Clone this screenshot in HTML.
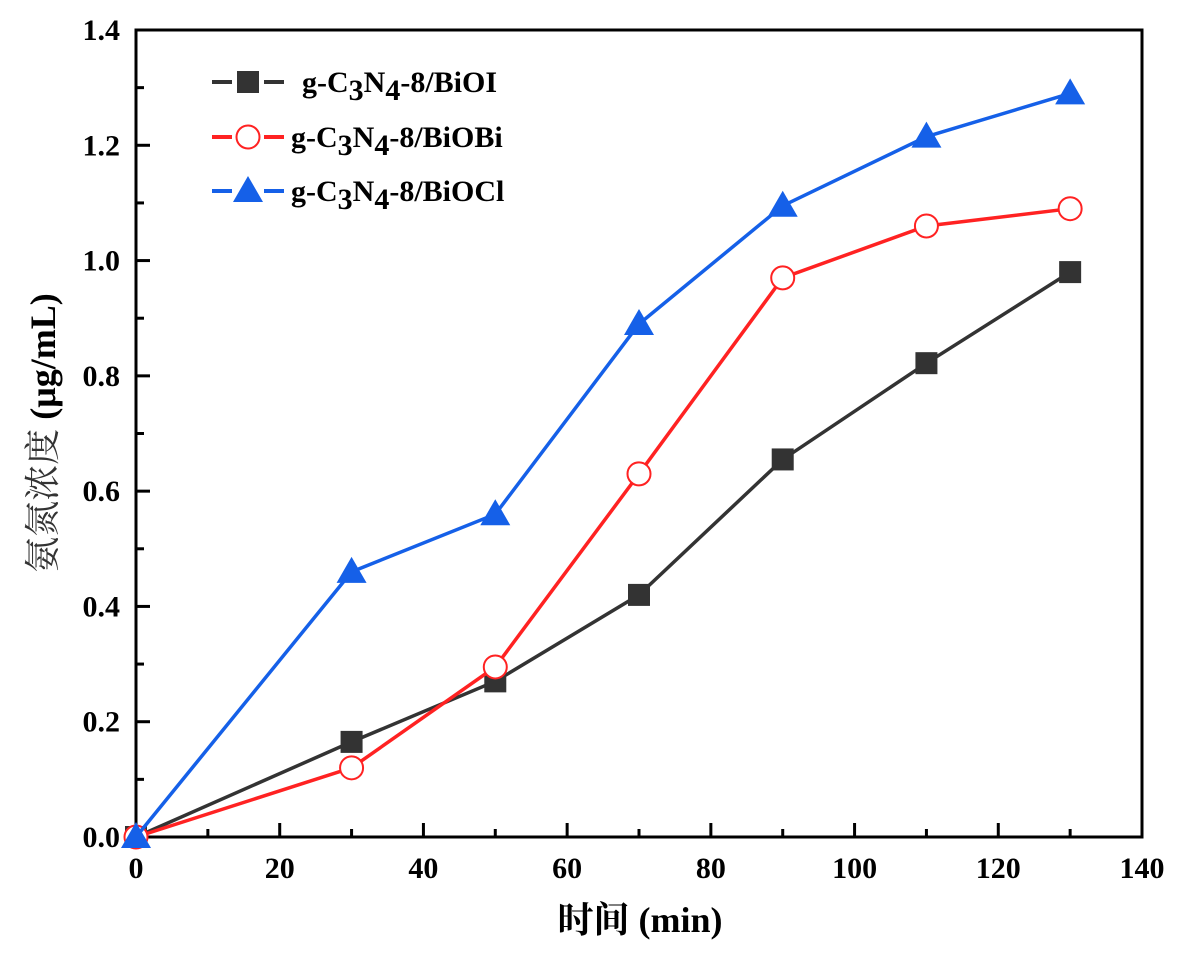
<!DOCTYPE html>
<html><head><meta charset="utf-8"><style>
body{margin:0;background:#fff}
svg text{font-family:"Liberation Serif","Noto Serif CJK SC",serif;font-weight:bold;fill:#000}
</style></head><body>
<svg width="1181" height="958" viewBox="0 0 1181 958">
<g id="axes"></g>
<g id="series"></g>
<g id="legend"></g>
</svg>
<script>
const xValues=[0,30,50,70,90,110,130];
const seriesBiOI=[0,0.165,0.27,0.42,0.655,0.822,0.98];
const seriesBiOBi=[0,0.12,0.295,0.63,0.97,1.06,1.09];
const seriesBiOCl=[0,0.46,0.56,0.89,1.095,1.215,1.29];
const xTicks=[0,20,40,60,80,100,120,140];
const yTicks=[0.0,0.2,0.4,0.6,0.8,1.0,1.2,1.4];
const L=136,R=1142,T=30,B=837;
const X=v=>L+(v/140)*(R-L), Y=v=>B-(v/1.4)*(B-T);
const NS="http://www.w3.org/2000/svg";
function mk(p,tag,at,txt){const e=document.createElementNS(NS,tag);for(const k in at)e.setAttribute(k,at[k]);if(txt!==undefined)e.textContent=txt;p.appendChild(e);return e;}
const ax=document.getElementById('axes');
const frame=mk(ax,'rect',{x:L,y:T,width:R-L,height:B-T,fill:'none',stroke:'#000','stroke-width':3});


for(let v=0;v<=140;v+=10){const x=X(v),len=v%20===0?14:8;
 const t=mk(ax,'line',{x1:x,x2:x,y1:B,y2:B-len,stroke:'#000','stroke-width':3});
 
 }
for(let i=0;i<=14;i++){const v=i*0.1,y=Y(v),len=i%2===0?14:8;
 const t=mk(ax,'line',{x1:L,x2:L+len,y1:y,y2:y,stroke:'#000','stroke-width':3});
 
 }
xTicks.forEach(v=>{const t=mk(ax,'text',{x:X(v),y:878,'text-anchor':'middle','font-size':30},String(v));
 
 });
yTicks.forEach(v=>{const t=mk(ax,'text',{x:120,y:Y(v)+10,'text-anchor':'end','font-size':30},v.toFixed(1));
 
 });
const xt=mk(ax,'text',{x:640,y:932,'text-anchor':'middle','font-size':36},'时间 (min)');


const yt=mk(ax,'text',{x:0,y:0,'text-anchor':'middle','font-size':36,transform:'translate(55,433) rotate(-90)'});
mk(yt,'tspan',{'font-weight':'normal',fill:'#333'},'氨氮浓度 ');
mk(yt,'tspan',{},'(μg/mL)');


const sg=document.getElementById('series');
function marker(p,type,x,y,c){
 if(type==='sq')return mk(p,'rect',{x:x-11,y:y-11,width:22,height:22,fill:'#333'});
 if(type==='ci')return mk(p,'circle',{cx:x,cy:y,r:11.5,fill:'#fff',stroke:'#f22','stroke-width':2});
 return mk(p,'polygon',{points:`${x},${y-15} ${x-15},${y+11} ${x+15},${y+11}`,fill:c});
}
const defs=[[seriesBiOI,'#333','sq','series-biOI'],[seriesBiOBi,'#f22','ci','series-biOBi'],[seriesBiOCl,'#1560e8','tr','series-biOCl']];
defs.forEach(([d,c,m,n])=>{
 const g=mk(sg,'g',{});
 
 
 const pl=mk(g,'polyline',{points:d.map((v,i)=>X(xValues[i])+','+Y(v)).join(' '),fill:'none',stroke:c,'stroke-width':3.5});
 
 
 d.forEach((v,i)=>{const e=marker(g,m,X(xValues[i]),Y(v),c);
  
  });
});
const lg=document.getElementById('legend');
const labels=[['g-C','3','N','4','-8/BiOI',302],['g-C','3','N','4','-8/BiOBi',291],['g-C','3','N','4','-8/BiOCl',291]];
defs.forEach(([d,c,m,n],i)=>{
 const y=[82,137,191][i];
 const g=mk(lg,'g',{});
 
 
 mk(g,'line',{x1:212,x2:232,y1:y,y2:y,stroke:c,'stroke-width':4});
 mk(g,'line',{x1:264,x2:284,y1:y,y2:y,stroke:c,'stroke-width':4});
 marker(g,m,248,y,c);
 const t=mk(g,'text',{x:labels[i][5],y:y+10,'font-size':30});
 mk(t,'tspan',{},labels[i][0]);mk(t,'tspan',{dy:8},labels[i][1]);mk(t,'tspan',{dy:-8},labels[i][2]);
 mk(t,'tspan',{dy:8},labels[i][3]);mk(t,'tspan',{dy:-8},labels[i][4]);
});
</script>
</body></html>
